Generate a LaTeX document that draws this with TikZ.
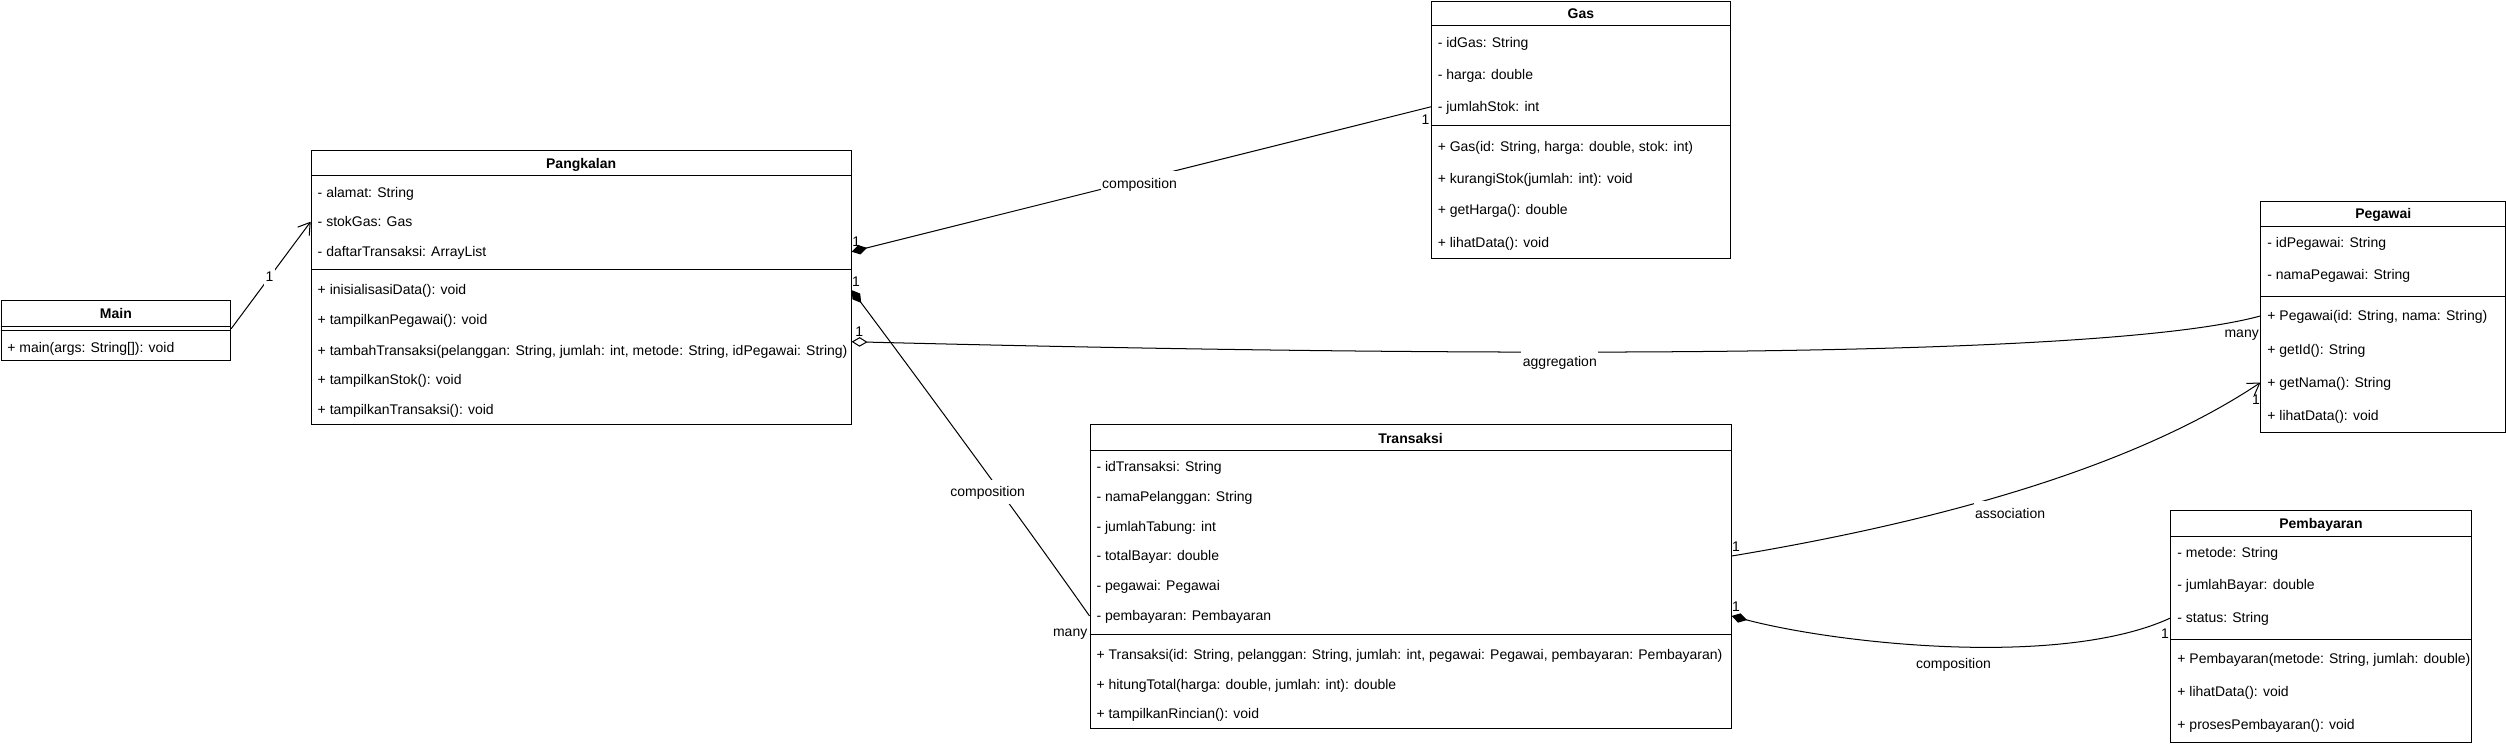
\documentclass[tikz,border=0pt]{standalone}
\usepackage{fontspec}
\setmainfont{Liberation Sans}
\usetikzlibrary{arrows.meta,calc}
\begin{document}
\begin{tikzpicture}[x=1pt,y=-1pt,
  font=\fontsize{8.75}{10}\selectfont,
  classbox/.style={draw,line width=0.63pt,inner sep=0pt,anchor=north west},
  sepline/.style={line width=0.63pt},
  title/.style={font=\fontsize{8.75}{10}\selectfont\bfseries,inner sep=0pt,text height=0.75em,text depth=0.15em},
  row/.style={anchor=west,inner sep=0pt,text height=0.75em,text depth=0.15em},
  conn/.style={line width=0.63pt},
  lbl/.style={fill=white,inner xsep=1pt,inner ysep=3pt,text height=0.75em,text depth=0.15em},
  mult/.style={inner sep=0pt,text height=0.75em,text depth=0.15em},
  comp/.style={conn,{Diamond[length=10pt,width=6pt]}-},
  aggr/.style={conn,{Diamond[open,length=10pt,width=6pt]}-},
  assoc/.style={conn,-{Straight Barb[length=7pt,width=9pt]}},
]
\fill[white] (0,0) rectangle (1568,466.8);
\useasboundingbox (0,0) rectangle (1568,466.8);

% ---------- Main ----------
\node[classbox,minimum width=143.6pt,minimum height=37.6pt] (main) at (0.4,187.7) {};
\node[title] (mainT) at (main.north |- 0,196.3) {Main};
\draw[sepline] (main.west |- 0,204.0) -- (main.east |- 0,204.0);
\draw[sepline] (main.west |- 0,206.5) -- (main.east |- 0,206.5);
\node[row] (mMain) at (4.4,217.5) {+ main(args: String[]): void};

% ---------- Pangkalan ----------
\node[classbox,minimum width=337.8pt,minimum height=171.4pt] (pang) at (194.4,93.9) {};
\node[title] (pangT) at (pang.north |- 0,102.5) {Pangkalan};
\draw[sepline] (pang.west |- 0,110.1) -- (pang.east |- 0,110.1);
\draw[sepline] (pang.west |- 0,168.9) -- (pang.east |- 0,168.9);
\node[row] (pAlamat) at (198.6,120.3) {- alamat: String};
\node[row] (pStok) at (198.6,138.7) {- stokGas: Gas};
\node[row] (pDaftar) at (198.6,157.5) {- daftarTransaksi: ArrayList};
\node[row] (pInit) at (198.6,181.5) {+ inisialisasiData(): void};
\node[row] (pPeg) at (198.6,200.2) {+ tampilkanPegawai(): void};
\node[row] (pTambah) at (198.6,219.4) {+ tambahTransaksi(pelanggan: String, jumlah: int, metode: String, idPegawai: String)};
\node[row] (pTStok) at (198.6,237.8) {+ tampilkanStok(): void};
\node[row] (pTTrans) at (198.6,256.5) {+ tampilkanTransaksi(): void};

% ---------- Gas ----------
\node[classbox,minimum width=186.9pt,minimum height=160.8pt] (gas) at (895.4,0.4) {};
\node[title] (gasT) at (gas.north |- 0,8.7) {Gas};
\draw[sepline] (gas.west |- 0,16.1) -- (gas.east |- 0,16.1);
\draw[sepline] (gas.west |- 0,78.8) -- (gas.east |- 0,78.8);
\node[row] (gId) at (899.4,26.7) {- idGas: String};
\node[row] (gHarga) at (899.4,46.7) {- harga: double};
\node[row] (gJumlah) at (899.4,66.8) {- jumlahStok: int};
\node[row] (gCons) at (899.4,91.8) {+ Gas(id: String, harga: double, stok: int)};
\node[row] (gKurang) at (899.4,111.6) {+ kurangiStok(jumlah: int): void};
\node[row] (gGet) at (899.4,131.4) {+ getHarga(): double};
\node[row] (gLihat) at (899.4,151.6) {+ lihatData(): void};

% ---------- Transaksi ----------
\node[classbox,minimum width=401.1pt,minimum height=190.4pt] (trans) at (681.7,265.3) {};
\node[title] (transT) at (trans.north |- 0,274.3) {Transaksi};
\draw[sepline] (trans.west |- 0,282.0) -- (trans.east |- 0,282.0);
\draw[sepline] (trans.west |- 0,396.9) -- (trans.east |- 0,396.9);
\node[row] (tId) at (685.9,292.0) {- idTransaksi: String};
\node[row] (tNama) at (685.9,310.8) {- namaPelanggan: String};
\node[row] (tJumlah) at (685.9,329.5) {- jumlahTabung: int};
\node[row] (tTotal) at (685.9,347.9) {- totalBayar: double};
\node[row] (tPeg) at (685.9,366.7) {- pegawai: Pegawai};
\node[row] (tPemb) at (685.9,385.4) {- pembayaran: Pembayaran};
\node[row] (tCons) at (685.9,409.4) {+ Transaksi(id: String, pelanggan: String, jumlah: int, pegawai: Pegawai, pembayaran: Pembayaran)};
\node[row] (tHitung) at (685.9,428.2) {+ hitungTotal(harga: double, jumlah: int): double};
\node[row] (tRinci) at (685.9,446.7) {+ tampilkanRincian(): void};

% ---------- Pegawai ----------
\node[classbox,minimum width=153.1pt,minimum height=144.9pt] (peg) at (1414.3,125.5) {};
\node[title] (pegT) at (peg.north |- 0,134.0) {Pegawai};
\draw[sepline] (peg.west |- 0,141.7) -- (peg.east |- 0,141.7);
\draw[sepline] (peg.west |- 0,185.4) -- (peg.east |- 0,185.4);
\node[row] (eId) at (1418.5,151.7) {- idPegawai: String};
\node[row] (eNama) at (1418.5,172.1) {- namaPegawai: String};
\node[row] (eCons) at (1418.5,197.7) {+ Pegawai(id: String, nama: String)};
\node[row] (eGetId) at (1418.5,218.7) {+ getId(): String};
\node[row] (eGetNama) at (1418.5,239.4) {+ getNama(): String};
\node[row] (eLihat) at (1418.5,259.8) {+ lihatData(): void};

% ---------- Pembayaran ----------
\node[classbox,minimum width=187.8pt,minimum height=145.1pt] (pemb) at (1358.0,319.2) {};
\node[title] (pembT) at (pemb.north |- 0,327.8) {Pembayaran};
\draw[sepline] (pemb.west |- 0,335.7) -- (pemb.east |- 0,335.7);
\draw[sepline] (pemb.west |- 0,400.0) -- (pemb.east |- 0,400.0);
\node[row] (bMetode) at (1362.2,345.6) {- metode: String};
\node[row] (bJumlah) at (1362.2,365.9) {- jumlahBayar: double};
\node[row] (bStatus) at (1362.2,386.7) {- status: String};
\node[row] (bCons) at (1362.2,412.4) {+ Pembayaran(metode: String, jumlah: double)};
\node[row] (bLihat) at (1362.2,432.8) {+ lihatData(): void};
\node[row] (bProses) at (1362.2,453.3) {+ prosesPembayaran(): void};

% ---------- Connectors ----------
\draw[assoc] ($(main.east)+(0,-1.1)$) -- (pang.west |- pStok);
\draw[comp] (pang.east |- pDaftar) -- (gas.west |- gJumlah);
\draw[comp] (pang.east |- pInit) .. controls +(45,60) and +(-35,-50) .. (trans.west |- tPemb);
\draw[aggr] ($(pang.east |- pTambah)+(0,-5.6)$) .. controls +(320,8) and +(-110,30) .. (peg.west |- eCons);
\draw[assoc] (trans.east |- tTotal) .. controls +(120,-20) and +(-84,56) .. (peg.west |- eGetNama);
\draw[comp] (trans.east |- tPemb) .. controls +(67,17.6) and +(-68,31.3) .. (pemb.west |- bStatus);

% ---------- Connector labels ----------
\node[lbl] (lMain) at (168.6,173.1) {1};
\node[lbl] (lGas) at (713,114.7) {composition};
\node[lbl] (lTrans) at (618,307.6) {composition};
\node[lbl] (lAggr) at (976,226) {aggregation};
\node[lbl] (lAssoc) at (1257.7,321.2) {association};
\node[lbl] (lPemb) at (1222.3,415.5) {composition};

% ---------- Multiplicities ----------
\node[mult] (m1) at (535.7,151.5) {1};
\node[mult] (m2) at (892,75) {1};
\node[mult] (m3) at (535.6,176.2) {1};
\node[mult,anchor=east] (m4) at (680.5,395.2) {many};
\node[mult] (m5) at (537.7,207.5) {1};
\node[mult,anchor=east] (m6) at (1413.5,208) {many};
\node[mult] (m7) at (1086.2,342) {1};
\node[mult] (m8) at (1411.6,249.8) {1};
\node[mult] (m9) at (1086.2,379.6) {1};
\node[mult] (m10) at (1354.7,396.3) {1};
\end{tikzpicture}
\end{document}
